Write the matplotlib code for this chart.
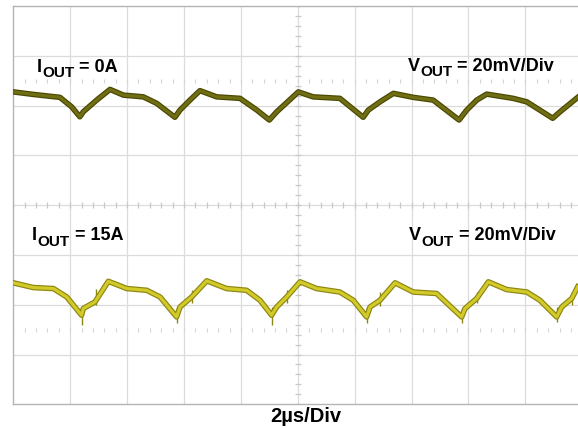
import numpy as np
import matplotlib
matplotlib.use("Agg")
import matplotlib.pyplot as plt
import matplotlib.patheffects as pe

plt.rcParams['font.family'] = ['Liberation Sans', 'DejaVu Sans']

# scope settings: 2us/div, 20mV/div
t_div = 2.0
v_div = 20.0

# top trace, IOUT = 0A (time in us, ripple in mV)
top_t = [0, 0.69, 1.64, 2.05, 2.34, 2.46, 2.93, 3.40, 3.87, 4.57,
         5.04, 5.68, 5.86, 6.21, 6.56, 7.15, 7.97, 8.56, 9.00, 9.26,
         10.02, 10.54, 11.48, 12.30, 12.48, 12.89, 13.36, 14.06, 14.76, 15.67,
         15.94, 16.29, 16.64, 17.57, 18.05, 18.96, 19.22, 19.84]
top_mv = [45.5, 44.5, 43.3, 39.5, 35.5, 37.5, 42.2, 46.5, 44.2, 43.5,
          40.9, 35.3, 38.2, 42.2, 46.0, 43.5, 42.9, 38.2, 34.2, 37.5,
          45.5, 43.5, 42.9, 35.3, 38.2, 41.5, 44.9, 43.3, 42.2, 34.2,
          38.2, 42.2, 44.6, 42.9, 41.5, 34.9, 37.5, 43.3]

# bottom trace, IOUT = 15A
bot_t = [0, 0.70, 1.41, 1.88, 2.40, 2.46, 2.87, 3.34, 3.99, 4.69,
         5.16, 5.74, 5.86, 6.27, 6.80, 7.50, 8.20, 8.67, 9.08, 9.26,
         9.61, 10.08, 10.66, 11.48, 11.95, 12.42, 12.54, 12.89, 13.42, 14.06,
         14.88, 15.76, 15.88, 16.29, 16.70, 17.34, 18.05, 18.51, 19.10, 19.28,
         19.63, 19.84]
bot_mv = [-31.2, -33.1, -33.5, -36.9, -44.2, -41.5, -38.9, -30.6, -33.5, -34.2,
          -36.9, -44.9, -40.9, -36.9, -30.4, -33.5, -34.2, -38.2, -44.2, -40.9,
          -36.9, -30.8, -33.5, -34.9, -38.2, -44.9, -40.9, -38.2, -31.2, -34.9,
          -35.5, -44.9, -41.5, -37.5, -30.8, -33.9, -34.9, -38.2, -44.9, -40.9,
          -37.5, -32.8]

# switching spikes on the 15A trace
spike_t = [2.41, 2.92, 5.75, 6.27, 9.09, 9.61, 12.43, 12.89, 15.77, 16.29, 19.11, 19.63]
spike_lo = [-48.0, -40.0, -47.5, -39.5, -48.0, -39.5, -47.5, -40.5, -47.5, -39.5, -47.0, -40.0]
spike_hi = [-41.5, -33.5, -41.0, -34.0, -41.0, -34.0, -41.0, -35.0, -41.5, -35.0, -41.0, -35.0]

fig = plt.figure(figsize=(5.78, 4.28), dpi=100)
W, H = 578.0, 428.0
ax = fig.add_axes([13.3 / W, (H - 404.3) / H, (W - 13.3) / W, (404.3 - 6) / H])
ax.set_xlim(0, 19.85)
ax.set_ylim(-4 * v_div, 4 * v_div)

# graticule
for x in np.arange(t_div, 20, t_div):
    ax.axvline(x, color='#dcdcdc', lw=0.9, zorder=1)
for y in np.arange(-3, 4) * v_div:
    ax.axhline(y, color='#dcdcdc', lw=0.9, zorder=1)
minor_x = np.arange(0, 20, t_div / 5)
minor_y = np.arange(-80, 81, v_div / 5)
ax.plot(minor_x, np.zeros_like(minor_x), ls='none', marker='|', ms=5, mew=0.9, color='#c8c8c8', zorder=1)
ax.plot(np.full_like(minor_y, 10.0), minor_y, ls='none', marker='_', ms=5, mew=0.9, color='#c8c8c8', zorder=1)
for yy in (2.5 * v_div, -2.5 * v_div):
    ax.plot(minor_x, np.full_like(minor_x, yy), ls='none', marker='|', ms=2.5, mew=0.8, color='#d4d4d4', zorder=1)

for s in ('left', 'top', 'bottom'):
    ax.spines[s].set_color('#b4b4b4')
    ax.spines[s].set_linewidth(1.0)
ax.spines['right'].set_visible(False)
ax.set_xticks([])
ax.set_yticks([])

# traces
ax.plot(top_t, top_mv, color='#706e14', lw=2.3, solid_joinstyle='round', zorder=3,
        path_effects=[pe.Stroke(linewidth=4.0, foreground='#4a4800'), pe.Normal()])
ax.vlines(spike_t, spike_lo, spike_hi, color='#8c8612', lw=1.0, zorder=2)
ax.plot(bot_t, bot_mv, color='#d2ca28', lw=2.3, solid_joinstyle='round', zorder=3,
        path_effects=[pe.Stroke(linewidth=4.0, foreground='#8c8612'), pe.Normal()])


def sub_label(x, y, main, sub, rest, size=13, subsize=11):
    t1 = ax.text(x, y, main, fontsize=size, fontweight='bold', va='baseline', ha='left', zorder=5)
    t2 = ax.annotate(sub, xy=(1, 0), xycoords=t1, xytext=(0.3, -3.2), textcoords='offset points',
                     fontsize=subsize, fontweight='bold', va='bottom', ha='left', zorder=5)
    ax.annotate(rest, xy=(1, 0), xycoords=(t2, t1), xytext=(0, 0), textcoords='offset points',
                fontsize=size, fontweight='bold', va='bottom', ha='left', zorder=5)


sub_label(0.83, 53.6, 'I', 'OUT', ' = 0A')
sub_label(13.87, 54.0, 'V', 'OUT', ' = 20mV/Div')
sub_label(0.66, -14.1, 'I', 'OUT', ' = 15A')
sub_label(13.91, -14.1, 'V', 'OUT', ' = 20mV/Div')

fig.text(306 / W, (H - 421.7) / H, '2\u00b5s/Div', fontsize=14.5, fontweight='bold',
         ha='center', va='baseline')

fig.savefig('out.png', dpi=100)
